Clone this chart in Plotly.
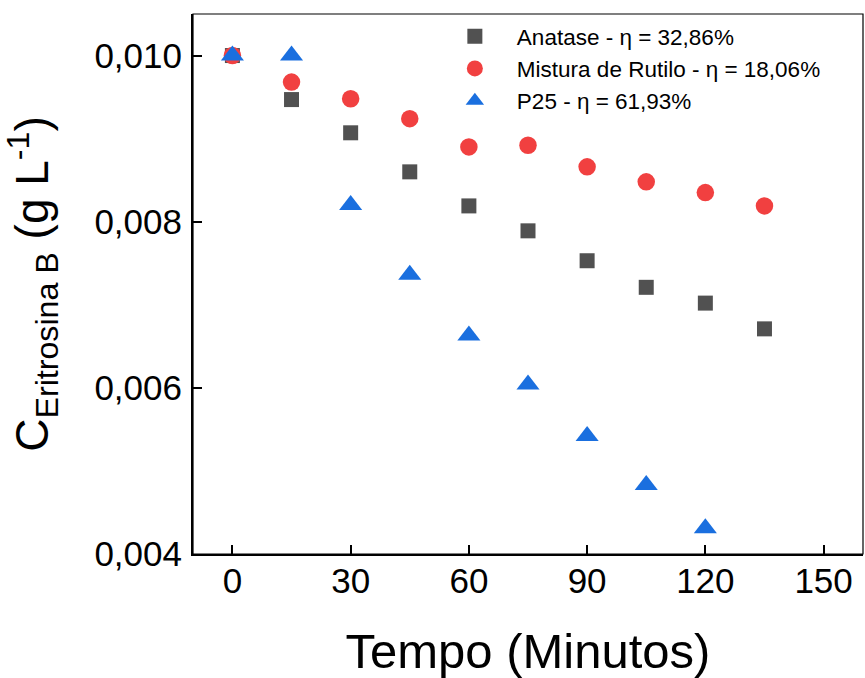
import plotly.graph_objects as go

tempo = [0, 15, 30, 45, 60, 75, 90, 105, 120, 135]
anatase = [0.0100, 0.00947, 0.00907, 0.00860, 0.00819, 0.00789, 0.00753, 0.00721, 0.00702, 0.00671]
rutilo = [0.0100, 0.00968, 0.00948, 0.00924, 0.00890, 0.00892, 0.00866, 0.00848, 0.00835, 0.00819]
tempo_p25 = [0, 15, 30, 45, 60, 75, 90, 105, 120]
p25 = [0.0100, 0.0100, 0.00820, 0.00736, 0.00663, 0.00604, 0.00542, 0.00483, 0.00431]

names = ["Anatase - η = 32,86%", "Mistura de Rutilo - η = 18,06%", "P25 - η = 61,93%"]

x_ticks = [0, 30, 60, 90, 120, 150]
y_ticks = [0.004, 0.006, 0.008, 0.010]
y_ticktext = ["0,004", "0,006", "0,008", "0,010"]

FONT = "Liberation Sans, Arial, sans-serif"

fig = go.Figure()
fig.add_trace(go.Scatter(x=tempo, y=anatase, mode="markers", name=names[0],
                         marker=dict(symbol="square", size=15, color="#515151", line=dict(width=0))))
fig.add_trace(go.Scatter(x=tempo, y=rutilo, mode="markers", name=names[1],
                         marker=dict(symbol="circle", size=17.5, color="#F14040", line=dict(width=0))))
fig.add_trace(go.Scatter(x=tempo_p25, y=p25, mode="markers", name=names[2],
                         marker=dict(symbol="triangle-up", size=20, color="#1A6FDF", line=dict(width=0))))

fig.update_layout(
    width=865, height=678,
    margin=dict(l=193, r=2, t=14, b=124),
    paper_bgcolor="white", plot_bgcolor="white",
    font=dict(family=FONT, color="black"),
    showlegend=True,
    legend=dict(x=0.358, y=0.998, xanchor="left", yanchor="top",
                bgcolor="rgba(0,0,0,0)", font=dict(size=22.5, family=FONT),
                tracegroupgap=0, itemsizing="trace", itemwidth=74),
    shapes=[dict(type="rect", xref="paper", yref="paper", x0=0, x1=1, y0=0, y1=1,
                 line=dict(color="black", width=1.2), layer="above")],
)

fig.update_xaxes(range=[-10, 160], tickvals=x_ticks, ticks="inside", ticklen=9, tickwidth=1.5,
                 tickcolor="black", showline=True, linecolor="black", linewidth=2,
                 showgrid=False, zeroline=False, tickfont=dict(size=35, family=FONT),
                 ticklabelstandoff=-5, automargin=False,
                 title=dict(text="Tempo (Minutos)", font=dict(size=49, family=FONT), standoff=37))
fig.update_yaxes(range=[0.004, 0.0105], tickvals=y_ticks, ticktext=y_ticktext, ticks="inside",
                 ticklen=9, tickwidth=1.5, tickcolor="black", showline=True, linecolor="black",
                 linewidth=2, showgrid=False, zeroline=False, tickfont=dict(size=35, family=FONT),
                 ticklabelstandoff=2, automargin=False,
                 title=dict(text="C<sub>Eritrosina B</sub> (g L<sup>-1</sup>)",
                            font=dict(size=46, family=FONT), standoff=31))

fig.write_html("out.html", config={"displayModeBar": False},
               post_script="document.body.style.margin='0';document.body.style.overflow='hidden';")
